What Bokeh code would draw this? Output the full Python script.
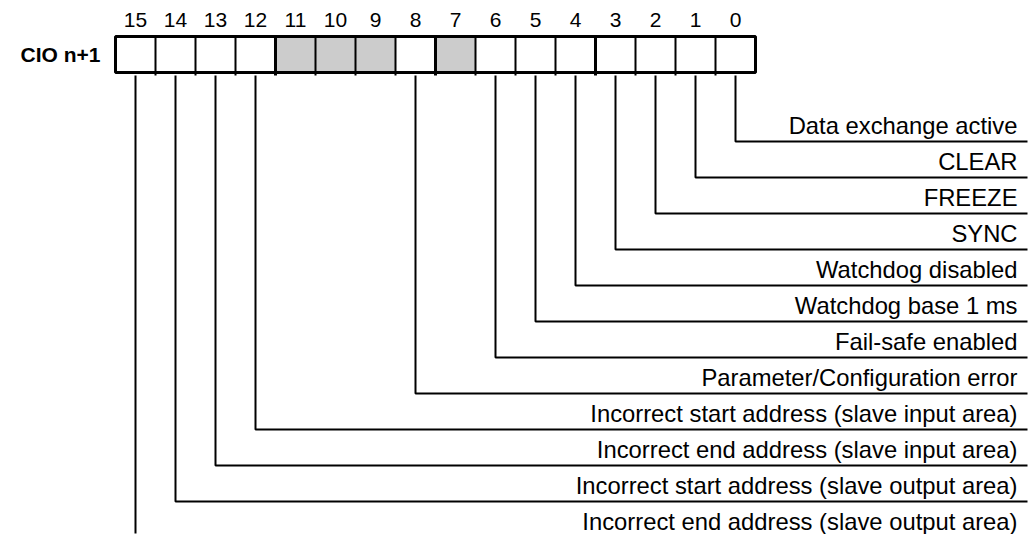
from bokeh.plotting import figure
from bokeh.models import Range1d
from bokeh.core.properties import value
from bokeh.embed import file_html
from bokeh.resources import INLINE

# ---------------- data ----------------
REGISTER_NAME = "CIO n+1"
BITS = list(range(15, -1, -1))            # bit numbers, left to right
RESERVED_BITS = [11, 10, 9, 7]            # shaded (unused) bits
LABEL_BITS = [0, 1, 2, 3, 4, 5, 6, 8, 12, 13, 14, 15]
LABELS = [
    "Data exchange active",
    "CLEAR",
    "FREEZE",
    "SYNC",
    "Watchdog disabled",
    "Watchdog base 1 ms",
    "Fail-safe enabled",
    "Parameter/Configuration error",
    "Incorrect start address (slave input area)",
    "Incorrect end address (slave input area)",
    "Incorrect start address (slave output area)",
    "Incorrect end address (slave output area)",
]

# ---------------- layout (1 x-unit = one bit cell, 1 y-unit = one label row) ----------------
W, H = 1035, 534
CELL_PX, ROW_PX = 40.0, 36.0
X0 = -115 / CELL_PX                        # left edge of plot in cell units
Y0 = -141 / ROW_PX                         # top edge of plot in row units
X_END = X0 + W / CELL_PX
Y_END = Y0 + H / ROW_PX
LINE_END = X0 + 1027 / CELL_PX
BOX_TOP = -105 / ROW_PX
BOX_BOT = -69 / ROW_PX
TICK = 3 / ROW_PX
LEAD_START = BOX_BOT + 3 / ROW_PX
LABEL_X = X0 + 1017 / CELL_PX
LABEL_LIFT = 16 / ROW_PX
FONT = "Liberation Sans"

p = figure(width=W, height=H, x_range=Range1d(X0, X_END), y_range=Range1d(Y_END, Y0),
           output_backend="svg", toolbar_location=None, x_axis_type=None, y_axis_type=None,
           min_border=0, outline_line_color=None, background_fill_color="white",
           border_fill_color="white")
p.grid.visible = False

# cells
cols = [15 - b for b in BITS]
fills = ["#cccccc" if b in RESERVED_BITS else "white" for b in BITS]
p.quad(left=cols, right=[c + 1 for c in cols], top=BOX_TOP, bottom=BOX_BOT,
       fill_color=fills, line_color=None)

# dividers (thicker every 4 bits) with small ticks below the box
div_x = list(range(1, 16))
div_w = [3 if i % 4 == 0 else 2 for i in div_x]
p.segment(x0=div_x, y0=[BOX_TOP] * len(div_x), x1=div_x, y1=[BOX_BOT + TICK] * len(div_x),
          line_color="black", line_width=div_w)

# outer frame
p.quad(left=[0], right=[16], top=[BOX_TOP], bottom=[BOX_BOT], fill_color=None,
       line_color="black", line_width=3)

# bit numbers
p.text(x=[c + 0.5 for c in cols], y=[-121.5 / ROW_PX] * len(cols), text=[str(b) for b in BITS],
       text_align="center", text_baseline="middle", text_font=value(FONT),
       text_font_size="21px", text_color="black")

# register name
p.text(x=[-15 / CELL_PX], y=[-87 / ROW_PX], text=[REGISTER_NAME], text_align="right",
       text_baseline="middle", text_font=value(FONT), text_font_size="21px",
       text_font_style="bold", text_color="black")

# leader lines and labels
xs, ys, lx, ly = [], [], [], []
n = len(LABEL_BITS)
for k, b in enumerate(LABEL_BITS):
    xc = 15 - b + 0.5
    if k < n - 1:
        xs.append([xc, xc, LINE_END])
        ys.append([LEAD_START, k, k])
    else:
        xs.append([xc, xc])
        ys.append([LEAD_START, Y0 + 533 / ROW_PX])
    ly.append(k - LABEL_LIFT)
    lx.append(LABEL_X)
p.multi_line(xs=xs, ys=ys, line_color="black", line_width=2)
p.text(x=lx, y=ly, text=LABELS, text_align="right", text_baseline="middle",
       text_font=value(FONT), text_font_size="23.8px", text_color="black")

open("out.html", "w").write(file_html(p, INLINE))
